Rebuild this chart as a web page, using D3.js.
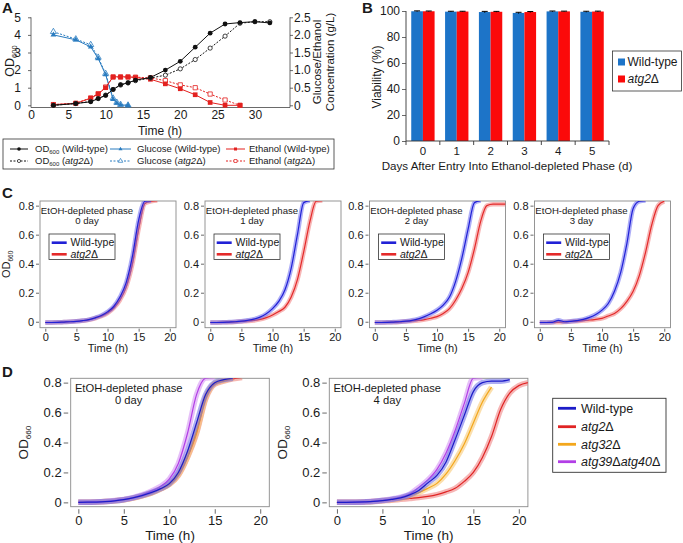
<!DOCTYPE html>
<html><head><meta charset="utf-8">
<script src="https://cdn.jsdelivr.net/npm/d3@7"></script>
<style>
body{margin:0;background:#fff;}
svg{display:block;}
text{font-family:'Liberation Sans',Arial,Helvetica,sans-serif;fill:#1a1a1a;}
</style>
</head><body>
<script>
// ---------------- DATA ----------------
// Panel A
const odTime = [3,6,8,9,10,11,12,13,14,16,18,20,22,24,26,28,30,32];
const odWT   = [0.0,0.1,0.2,0.38,0.56,0.9,1.17,1.28,1.43,1.58,2.0,2.5,3.3,4.1,4.62,4.7,4.75,4.68];
const odAtg2 = [0.0,0.1,0.22,0.38,0.58,0.9,1.15,1.27,1.4,1.55,1.71,2.07,2.6,3.25,3.93,4.66,4.75,4.75];
const gluTime = [3,6,8,9,10,11,11.5,12,13];
const gluWT   = [2.0,1.86,1.66,1.33,0.87,0.17,0.06,0.01,0.0];
const gluAtg2 = [2.09,1.88,1.72,1.36,0.9,0.2,0.08,0.02,0.0];
const etTime = [3,6,8,9,10,11,12,13,14,16,18,20,22,24,26,28];
const etWT   = [0.02,0.055,0.2,0.32,0.5,0.81,0.81,0.81,0.79,0.74,0.61,0.47,0.3,0.08,0.0,0.0];
const etAtg2 = [0.02,0.06,0.21,0.33,0.52,0.8,0.8,0.8,0.8,0.78,0.7,0.58,0.5,0.32,0.15,0.0];
const odTicksA = [0,1,2,3,4,5];
const concTicksA = [0,0.5,1.0,1.5,2.0,2.5];
const timeTicksA = [0,5,10,15,20,25,30];

// Panel B
const days = ["0","1","2","3","4","5"];
const viabWT   = [99.8,99.5,99.2,98.5,99.7,99.4];
const viabAtg2 = [99.8,99.6,99.4,99.2,99.7,99.6];
const errWT    = [0.3,0.3,0.5,0.5,0.3,0.4];
const errAtg2  = [0.2,0.2,0.3,0.4,0.2,0.3];
const viabTicks = [0,20,40,60,80,100];

// Panels C & D (OD660 at each hour, null/missing = no data)
const hours = [0,1,2,3,4,5,6,7,8,9,10,11,12,13,14,15,16,17,18,19,20,21];
const c0WT   = [-0.005,-0.005,-0.004,-0.002,0,0.003,0.008,0.015,0.027,0.043,0.068,0.105,0.17,0.27,0.45,0.7,0.83,0.835];
const c0Atg2 = [-0.005,-0.005,-0.004,-0.002,0,0.003,0.007,0.013,0.024,0.038,0.06,0.095,0.15,0.24,0.4,0.64,0.815,0.83,0.835];
const c1WT   = [-0.005,-0.005,-0.004,-0.002,0,0.004,0.01,0.018,0.032,0.055,0.09,0.14,0.22,0.37,0.6,0.82,0.835];
const c1Atg2 = [-0.005,-0.005,-0.004,-0.003,-0.001,0.002,0.005,0.009,0.016,0.028,0.046,0.07,0.1,0.17,0.29,0.48,0.69,0.83,0.835];
const c2WT   = [-0.005,-0.005,-0.004,-0.002,0,0.004,0.01,0.02,0.035,0.055,0.08,0.115,0.17,0.28,0.44,0.64,0.82,0.835];
const c2Atg2 = [-0.005,-0.005,-0.004,-0.003,-0.001,0.002,0.005,0.009,0.015,0.024,0.035,0.057,0.09,0.15,0.23,0.34,0.5,0.69,0.8,0.81,0.81,0.81];
const c3WT   = [-0.005,-0.005,-0.004,0.01,0,0.003,0.008,0.016,0.03,0.05,0.08,0.126,0.21,0.34,0.54,0.78,0.83,0.835];
const c3Atg2 = [-0.005,-0.005,-0.004,-0.003,-0.001,0.002,0.004,0.008,0.012,0.017,0.023,0.04,0.057,0.09,0.14,0.21,0.32,0.48,0.67,0.8,0.83];
const d0WT    = [0,0.001,0.002,0.005,0.01,0.018,0.03,0.045,0.065,0.09,0.125,0.2,0.34,0.53,0.72,0.8,0.82,0.83];
const d0Atg2  = [0,0.001,0.002,0.005,0.01,0.017,0.028,0.043,0.062,0.088,0.12,0.18,0.3,0.46,0.69,0.79,0.81,0.825,0.835];
const d0Atg32 = [0,0.001,0.002,0.005,0.01,0.017,0.028,0.043,0.062,0.089,0.121,0.185,0.305,0.47,0.7,0.795,0.815,0.83];
const d0Atg3940 = [0,0.001,0.003,0.006,0.012,0.02,0.032,0.05,0.075,0.105,0.155,0.26,0.46,0.72,0.83,0.835];
const d4WT    = [0,0,0.001,0.003,0.006,0.012,0.02,0.03,0.05,0.08,0.13,0.18,0.27,0.42,0.58,0.74,0.8,0.81,0.81,0.82];
const d4Atg2  = [0,0,0.001,0.002,0.005,0.01,0.014,0.02,0.026,0.032,0.04,0.052,0.07,0.094,0.14,0.2,0.3,0.44,0.62,0.73,0.78,0.8];
const d4Atg32 = [0,0,0.001,0.003,0.006,0.012,0.018,0.027,0.045,0.065,0.094,0.127,0.19,0.28,0.39,0.53,0.67,0.77];
const d4Atg3940 = [0,0,0.001,0.003,0.007,0.014,0.022,0.035,0.055,0.1,0.15,0.22,0.33,0.48,0.66,0.83,0.835];
const odTicksCD = [0,0.2,0.4,0.6,0.8];
const timeTicksCD = [0,5,10,15,20];

// ---------------- DRAW ----------------
const svg = d3.select("body").append("svg").attr("width",683).attr("height",543);
const defs = svg.append("defs");
const BLK = "#111";

function panelLetter(t,x,y){ svg.append("text").attr("x",x).attr("y",y).attr("font-size",15).attr("font-weight","bold").text(t); }
panelLetter("A",2,13); panelLetter("B",362,13); panelLetter("C",2,198); panelLetter("D",2,377);

function styleAxis(g, fs){
  g.select(".domain").remove();
  g.selectAll(".tick line").attr("stroke","#444").attr("stroke-width",0.8);
  g.selectAll(".tick text").attr("font-size",fs).attr("fill","#1a1a1a").attr("font-family","'Liberation Sans',Arial,sans-serif");
}
function addAtg(sel, name){
  sel.append("tspan").attr("font-style","italic").text(name);
}

// ===== Panel A =====
(function(){
  const g = svg.append("g");
  const x = d3.scaleLinear().domain([0,34.7]).range([31,290]);
  const y = d3.scaleLinear().domain([0,5]).range([105.3,17.3]);
  const y2 = d3.scaleLinear().domain([0,2.5]).range([105.3,17.3]);
  const yb = 107.5;
  g.append("path").attr("d",`M${x(0)},${y(5)}V${yb}H${x.range()[1]}V${y(5)}`).attr("fill","none").attr("stroke","#444").attr("stroke-width",0.8);
  const la = g.append("g").attr("transform",`translate(${x(0)},0)`).call(d3.axisLeft(y).tickValues(odTicksA).tickSize(3).tickPadding(7).tickFormat(d3.format("d")));
  styleAxis(la,12);
  const ra = g.append("g").attr("transform",`translate(${x.range()[1]},0)`).call(d3.axisRight(y2).tickValues(concTicksA).tickSize(3).tickPadding(1).tickFormat(d=>d===0?"0":d3.format(".1f")(d)));
  styleAxis(ra,12);
  const ba = g.append("g").attr("transform",`translate(0,${yb})`).call(d3.axisBottom(x).tickValues(timeTicksA).tickSize(0).tickPadding(3));
  styleAxis(ba,12);
  g.append("text").attr("x",160).attr("y",135).attr("text-anchor","middle").attr("font-size",12).text("Time (h)");
  const ol = g.append("text").attr("transform","translate(14,61) rotate(-90)").attr("text-anchor","middle").attr("font-size",12.5);
  ol.append("tspan").text("OD"); ol.append("tspan").attr("font-size",7.5).attr("dy",3).text("600");
  g.append("text").attr("transform","translate(321,62) rotate(-90)").attr("text-anchor","middle").attr("font-size",11.5).text("Glucose/Ethanol");
  g.append("text").attr("transform","translate(334,62) rotate(-90)").attr("text-anchor","middle").attr("font-size",11.5).text("Concentration (g/L)");

  const tri = d3.symbol().type(d3.symbolTriangle);
  const sq = d3.symbol().type(d3.symbolSquare);
  function series(tv, vals, ys, color, dashed, marker){
    const pts = tv.map((t,i)=>[x(t), ys(vals[i])]);
    g.append("path").attr("d",d3.line()(pts)).attr("fill","none").attr("stroke",color).attr("stroke-width",1)
      .attr("stroke-dasharray",dashed?"2,1.5":null);
    pts.forEach(p=>{
      if(marker==="fc") g.append("circle").attr("cx",p[0]).attr("cy",p[1]).attr("r",2.4).attr("fill",color);
      if(marker==="oc") g.append("circle").attr("cx",p[0]).attr("cy",p[1]).attr("r",2.1).attr("fill","#fff").attr("stroke",color).attr("stroke-width",0.8);
      if(marker==="ft") g.append("path").attr("d",tri.size(14)()).attr("transform",`translate(${p})`).attr("fill",color);
      if(marker==="ot") g.append("path").attr("d",tri.size(16)()).attr("transform",`translate(${p})`).attr("fill","#fff").attr("stroke",color).attr("stroke-width",0.8);
      if(marker==="fs") g.append("path").attr("d",sq.size(22)()).attr("transform",`translate(${p})`).attr("fill",color);
      if(marker==="os") g.append("path").attr("d",sq.size(18)()).attr("transform",`translate(${p})`).attr("fill","#fff").attr("stroke",color).attr("stroke-width",0.8);
    });
  }
  const blueA = "#2a7cc0", redA = "#e3211f";
  series(gluTime, gluAtg2, y2, blueA, true, "ot");
  series(gluTime, gluWT, y2, blueA, false, "ft");
  series(etTime, etAtg2, y2, redA, true, "os");
  series(etTime, etWT, y2, redA, false, "fs");
  series(odTime, odAtg2, y, BLK, true, "oc");
  series(odTime, odWT, y, BLK, false, "fc");

  // legend
  const lg = g.append("g");
  lg.append("rect").attr("x",3).attr("y",139).attr("width",331).attr("height",30).attr("fill","none").attr("stroke","#333").attr("stroke-width",0.8);
  const items = [
    {x0:10,x1:28,tx:35,ry:149,c:BLK,d:false,m:"fc",lab:["OD","600"," (Wild-type)"]},
    {x0:10,x1:28,tx:35,ry:161,c:BLK,d:true,m:"oc",lab:["OD","600"," (",null,")"]},
    {x0:110,x1:131,tx:137,ry:149,c:blueA,d:false,m:"ft",lab:["Glucose (Wild-type)"]},
    {x0:110,x1:131,tx:137,ry:161,c:blueA,d:true,m:"ot",lab:["Glucose (",null,")"]},
    {x0:226,x1:245,tx:249,ry:149,c:redA,d:false,m:"fs",lab:["Ethanol (Wild-type)"]},
    {x0:226,x1:245,tx:249,ry:161,c:redA,d:true,m:"os",lab:["Ethanol (",null,")"]}
  ];
  items.forEach(it=>{
    lg.append("line").attr("x1",it.x0).attr("x2",it.x1).attr("y1",it.ry).attr("y2",it.ry).attr("stroke",it.c).attr("stroke-width",1).attr("stroke-dasharray",it.d?"2,1.5":null);
    const mx=(it.x0+it.x1)/2;
    if(it.m==="fc") lg.append("circle").attr("cx",mx).attr("cy",it.ry).attr("r",1.8).attr("fill",it.c);
    if(it.m==="oc") lg.append("circle").attr("cx",mx).attr("cy",it.ry).attr("r",1.6).attr("fill","#fff").attr("stroke",it.c).attr("stroke-width",0.7);
    if(it.m==="ft") lg.append("path").attr("d",tri.size(7)()).attr("transform",`translate(${mx},${it.ry})`).attr("fill",it.c);
    if(it.m==="ot") lg.append("path").attr("d",tri.size(9)()).attr("transform",`translate(${mx},${it.ry})`).attr("fill","#fff").attr("stroke",it.c).attr("stroke-width",0.7);
    if(it.m==="fs") lg.append("path").attr("d",sq.size(9)()).attr("transform",`translate(${mx},${it.ry})`).attr("fill",it.c);
    if(it.m==="os") lg.append("path").attr("d",sq.size(9)()).attr("transform",`translate(${mx},${it.ry})`).attr("fill","#fff").attr("stroke",it.c).attr("stroke-width",0.7);
    const t = lg.append("text").attr("x",it.tx).attr("y",it.ry+3.3).attr("font-size",9.5);
    if(it.lab[0]==="OD"){
      t.append("tspan").text("OD"); t.append("tspan").attr("font-size",6).attr("dy",2).text("600");
      if(it.lab.length===3){ t.append("tspan").attr("dy",-2).text(" (Wild-type)"); }
      else { t.append("tspan").attr("dy",-2).text(" ("); addAtg(t,"atg2"); t.append("tspan").text("Δ)"); }
    } else if(it.lab.length===1){ t.text(it.lab[0]); }
    else { t.append("tspan").text(it.lab[0]); addAtg(t,"atg2"); t.append("tspan").text("Δ)"); }
  });
})();

// ===== Panel B =====
(function(){
  const g = svg.append("g");
  const x = d3.scaleBand().domain(days).range([406,609]).paddingInner(0.31).paddingOuter(0.155);
  const xs = d3.scaleBand().domain(["wt","atg2"]).range([0,x.bandwidth()]);
  const y = d3.scaleLinear().domain([0,100]).range([141,11]);
  const cols = {wt:"#1d74c8", atg2:"#fb0a0a"};
  const rows = days.map((d,i)=>({d, wt:viabWT[i], atg2:viabAtg2[i], ewt:errWT[i], eatg2:errAtg2[i]}));
  ["wt","atg2"].forEach(k=>{
    g.selectAll(null).data(rows).enter().append("rect")
      .attr("x",r=>x(r.d)+xs(k)).attr("width",xs.bandwidth())
      .attr("y",r=>y(r[k])).attr("height",r=>y(0)-y(r[k])).attr("fill",cols[k]);
    g.selectAll(null).data(rows).enter().append("path")
      .attr("d",r=>{const cx=x(r.d)+xs(k)+xs.bandwidth()/2, e=r["e"+k];
        return `M${cx},${y(r[k]-e)}V${y(r[k]+e)}M${cx-3},${y(r[k]+e)}H${cx+3}`;})
      .attr("stroke","#000").attr("stroke-width",1).attr("fill","none");
  });
  g.append("path").attr("d",`M406,${y(100)}V${y(0)}H609`).attr("fill","none").attr("stroke","#333").attr("stroke-width",0.9);
  const la = g.append("g").attr("transform","translate(406,0)").call(d3.axisLeft(y).tickValues(viabTicks).tickSize(4).tickPadding(2));
  styleAxis(la,12);
  const step = x.step();
  const bounds = [406].concat(days.slice(0,-1).map(d=>x(d)+x.bandwidth()+(step-x.bandwidth())/2)).concat([609]);
  bounds.forEach(b=>g.append("line").attr("x1",b).attr("x2",b).attr("y1",y(0)).attr("y2",y(0)+4).attr("stroke","#333").attr("stroke-width",0.9));
  days.forEach(d=>g.append("text").attr("x",x(d)+x.bandwidth()/2).attr("y",155).attr("text-anchor","middle").attr("font-size",11.5).text(d));
  g.append("text").attr("x",507).attr("y",169.5).attr("text-anchor","middle").attr("font-size",11.6).text("Days After Entry Into Ethanol-depleted Phase (d)");
  g.append("text").attr("transform","translate(381,77) rotate(-90)").attr("text-anchor","middle").attr("font-size",12).text("Viability (%)");
  g.append("rect").attr("x",612.5).attr("y",51).attr("width",69).attr("height",40).attr("fill","#fff").attr("stroke","#333").attr("stroke-width",0.8);
  g.append("rect").attr("x",618).attr("y",58.5).attr("width",7).attr("height",7).attr("fill",cols.wt);
  g.append("rect").attr("x",618).attr("y",75.5).attr("width",7).attr("height",7).attr("fill",cols.atg2);
  g.append("text").attr("x",627.5).attr("y",66.3).attr("font-size",12).text("Wild-type");
  const t2 = g.append("text").attr("x",627.5).attr("y",83.3).attr("font-size",12);
  addAtg(t2,"atg2"); t2.append("tspan").text("Δ");
})();

// ===== Growth panels (C & D) =====
let clipN = 0;
function growth(o){
  const g = svg.append("g");
  const x = d3.scaleLinear().domain(o.xd).range([o.l,o.l+o.w]);
  const y = d3.scaleLinear().domain(o.yd).range([o.t+o.h,o.t]);
  const cid = "clip"+(clipN++);
  defs.append("clipPath").attr("id",cid).append("rect").attr("x",o.l).attr("y",o.t).attr("width",o.w).attr("height",o.h);
  g.append("rect").attr("x",o.l).attr("y",o.t).attr("width",o.w).attr("height",o.h).attr("fill","#fff").attr("stroke","#8a8a8a").attr("stroke-width",0.9);
  const la = g.append("g").attr("transform",`translate(${o.l-o.tg},0)`).call(d3.axisLeft(y).tickValues(odTicksCD).tickSize(o.ts).tickPadding(o.tp).tickFormat(d=>d===0?"0":d3.format(".1f")(d)));
  styleAxis(la,o.fs);
  const ba = g.append("g").attr("transform",`translate(0,${o.t+o.h+o.tg})`).call(d3.axisBottom(x).tickValues(timeTicksCD).tickSize(o.ts).tickPadding(o.tp));
  styleAxis(ba,o.fs);
  g.append("text").attr("x",o.l+o.w/2).attr("y",o.tl).attr("text-anchor","middle").attr("font-size",o.fsT).text("Time (h)");
  if(o.ylab!==undefined){
    const ol = g.append("text").attr("transform",`translate(${o.ylab},${o.t+o.h/2}) rotate(-90)`).attr("text-anchor","middle").attr("font-size",o.fsT);
    ol.append("tspan").text("OD"); ol.append("tspan").attr("font-size",o.fsT*0.6).attr("dy",3).text("660");
  }
  g.append("text").attr("x",o.l+o.ax).attr("y",o.t+o.ay1).attr("text-anchor","middle").attr("font-size",o.fsA).text("EtOH-depleted phase");
  g.append("text").attr("x",o.l+o.ax).attr("y",o.t+o.ay2).attr("text-anchor","middle").attr("font-size",o.fsA).text(o.day);
  const line = d3.line().defined(d=>d[1]!==null).x(d=>x(d[0])).y(d=>y(d[1])).curve(d3.curveMonotoneX);
  const cg = g.append("g").attr("clip-path",`url(#${cid})`);
  o.series.forEach(s=>{
    const pts = hours.map((h,i)=>[h, (s.v[i]===undefined ? null : s.v[i])]);
    cg.append("path").attr("d",line(pts)).attr("fill","none").attr("stroke",s.halo).attr("stroke-width",o.hw).attr("stroke-opacity",0.55).attr("stroke-linejoin","round");
    cg.append("path").attr("d",line(pts)).attr("fill","none").attr("stroke",s.c).attr("stroke-width",1.2);
  });
  if(o.legend){
    const lx=o.l+9, ly=o.t+33;
    g.append("rect").attr("x",lx).attr("y",ly).attr("width",66).attr("height",25.5).attr("fill","#fff").attr("stroke","#333").attr("stroke-width",0.8);
    [[cBlue,8.7,"Wild-type"],[cRed,20.3,null]].forEach(([c,dy,lab])=>{
      g.append("line").attr("x1",lx+2.7).attr("x2",lx+17.7).attr("y1",ly+dy).attr("y2",ly+dy).attr("stroke",c).attr("stroke-width",2.6);
      const t = g.append("text").attr("x",lx+21.5).attr("y",ly+dy+3.7).attr("font-size",10.5);
      if(lab) t.text(lab); else { addAtg(t,"atg2"); t.append("tspan").text("Δ"); }
    });
  }
}
const cBlue="#2121d6", cRed="#e42a2a", cBlueH="#6b6bf0", cRedH="#f07a7a";
const dBlue="#1c1cc8", dRed="#e02424", dOrange="#f3a71c", dPurple="#b23ee6";
const cCommon = {t:201, w:136, h:126.7, xd:[-0.85,21], yd:[-0.041,0.832], tg:1, ts:3, tp:2, fs:11, fsT:11, tl:352, fsA:9.6, ax:47, ay1:12.5, ay2:22.5, hw:4.5, legend:true};
const cDays = [["0 day",c0WT,c0Atg2,40,10],["1 day",c1WT,c1Atg2,205],["2 day",c2WT,c2Atg2,369.5],["3 day",c3WT,c3Atg2,534.5]];
cDays.forEach(([day,wt,mut,l,ylab])=>{
  growth(Object.assign({}, cCommon, {l, day, ylab, series:[{v:mut,c:cRed,halo:cRedH},{v:wt,c:cBlue,halo:cBlueH}]}));
});
const dCommon = {t:378.3, w:198.6, h:128.4, xd:[-0.84,21], yd:[-0.029,0.829], tg:2.5, ts:4.5, tp:2, fs:13, fsT:13.5, tl:540, fsA:11.2, ax:58, ay1:13.5, ay2:25.5, hw:5.5, legend:false};
growth(Object.assign({}, dCommon, {l:70.7, ylab:28, day:"0 day", series:[
  {v:d0Atg2,c:dRed,halo:"#ee7a6e"},{v:d0Atg32,c:dOrange,halo:"#f7c56a"},{v:d0Atg3940,c:dPurple,halo:"#d18cf2"},{v:d0WT,c:dBlue,halo:"#6a6ae8"}]}));
growth(Object.assign({}, dCommon, {l:329.3, ylab:287, day:"4 day", series:[
  {v:d4Atg2,c:dRed,halo:"#ee7a7a"},{v:d4Atg32,c:dOrange,halo:"#f7c56a"},{v:d4Atg3940,c:dPurple,halo:"#d18cf2"},{v:d4WT,c:dBlue,halo:"#6a6ae8"}]}));
// D legend
(function(){
  const g = svg.append("g");
  g.append("rect").attr("x",552.7).attr("y",398.3).attr("width",113.3).attr("height",74).attr("fill","#fff").attr("stroke","#333").attr("stroke-width",0.9);
  const it = [[dBlue,408.3,["Wild-type"]],[dRed,426.7,["atg2"]],[dOrange,444.3,["atg32"]],[dPurple,461.7,["atg39","atg40"]]];
  it.forEach(([c,yy,lab])=>{
    g.append("line").attr("x1",558).attr("x2",576).attr("y1",yy).attr("y2",yy).attr("stroke",c).attr("stroke-width",2.8);
    const t = g.append("text").attr("x",581).attr("y",yy+4.3).attr("font-size",12.5);
    if(lab[0]==="Wild-type") t.text("Wild-type");
    else lab.forEach(n=>{ addAtg(t,n); t.append("tspan").text("Δ"); });
  });
})();
</script>
</body></html>
